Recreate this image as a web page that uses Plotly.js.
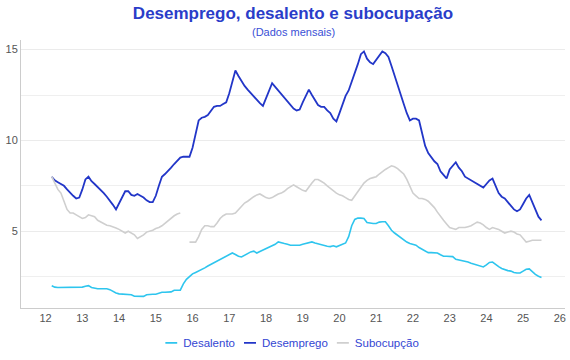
<!DOCTYPE html>
<html>
<head>
<meta charset="utf-8">
<script src="https://cdn.plot.ly/plotly-3.0.1.min.js"></script>
<style>
html,body{margin:0;padding:0;background:#fff;}
#chart{width:570px;height:360px;}
</style>
</head>
<body>
<div id="chart"></div>
<script>
// Monthly series, March 2012 to July 2025 (x = year - 2000, fractional by month)
var startYear = 12, startMonth = 3;
var seriesNames = ["Desalento", "Desemprego", "Subocupção"];

var desalento = [
  2.0,1.92,1.9,1.9,1.9,1.9,1.9,1.9,1.9,1.9,
  1.92,1.97,2.0,1.9,1.85,1.83,1.83,1.83,1.83,1.78,1.68,1.6,
  1.55,1.53,1.53,1.53,1.5,1.42,1.41,1.41,1.41,1.5,1.53,1.53,
  1.53,1.6,1.64,1.64,1.64,1.66,1.75,1.75,1.75,2.1,2.35,2.5,
  2.65,2.73,2.8,2.9,2.98,3.08,3.17,3.26,3.35,3.44,3.53,3.62,
  3.71,3.8,3.72,3.62,3.58,3.68,3.78,3.86,3.9,3.8,3.88,3.96,
  4.05,4.12,4.2,4.28,4.41,4.35,4.32,4.28,4.23,4.23,4.23,4.23,
  4.28,4.32,4.38,4.41,4.35,4.3,4.25,4.22,4.17,4.15,4.2,4.14,
  4.2,4.25,4.35,4.7,5.3,5.65,5.72,5.72,5.7,5.48,5.44,5.42,
  5.42,5.5,5.52,5.52,5.3,5.05,4.9,4.78,4.65,4.5,4.4,4.32,
  4.28,4.23,4.1,4.0,3.88,3.82,3.82,3.82,3.8,3.7,3.62,3.62,
  3.62,3.6,3.45,3.42,3.4,3.36,3.3,3.24,3.18,3.12,3.05,3.03,
  3.15,3.28,3.3,3.15,3.05,2.95,2.88,2.83,2.8,2.72,2.7,2.7,
  2.8,2.9,2.92,2.75,2.62,2.52,2.45
];

var desemprego = [
  8.0,7.8,7.7,7.6,7.5,7.3,7.1,6.95,6.8,6.85,
  7.3,7.85,8.0,7.75,7.6,7.45,7.3,7.1,6.9,6.7,6.45,6.2,
  6.55,6.9,7.2,7.2,7.0,6.95,7.05,6.95,6.85,6.7,6.6,6.6,
  6.95,7.5,8.0,8.15,8.3,8.5,8.7,8.9,9.05,9.1,9.1,9.1,
  9.6,10.3,11.1,11.25,11.3,11.4,11.65,11.85,11.9,11.9,12.0,12.1,
  12.6,13.2,13.85,13.55,13.25,13.0,12.8,12.6,12.4,12.2,12.05,11.9,
  12.3,12.7,13.15,12.95,12.75,12.5,12.3,12.1,11.9,11.75,11.65,11.7,
  12.1,12.5,12.8,12.5,12.25,11.95,11.85,11.85,11.65,11.5,11.2,11.05,
  11.5,11.95,12.45,12.75,13.2,13.7,14.2,14.75,14.9,14.5,14.3,14.2,
  14.45,14.65,14.9,14.8,14.6,14.1,13.55,13.05,12.5,12.0,11.5,11.1,
  11.2,11.2,11.1,10.3,9.7,9.3,9.05,8.85,8.7,8.3,8.1,7.9,
  8.4,8.6,8.8,8.5,8.3,8.0,7.9,7.8,7.7,7.6,7.5,7.4,
  7.6,7.8,7.9,7.5,7.1,6.9,6.8,6.6,6.4,6.2,6.1,6.2,
  6.5,6.8,7.0,6.6,6.2,5.8,5.6
];

var subocupacao = [
  8.0,7.6,7.3,7.1,6.7,6.2,6.0,6.0,5.9,5.8,
  5.7,5.75,5.9,5.85,5.8,5.6,5.5,5.4,5.33,5.3,5.25,5.18,
  5.1,5.0,4.9,5.0,4.9,4.8,4.6,4.7,4.8,4.95,5.0,5.05,
  5.15,5.2,5.3,5.45,5.6,5.75,5.85,5.95,6.0,null,null,4.4,
  4.4,4.4,4.7,5.1,5.3,5.3,5.25,5.25,5.45,5.7,5.85,5.95,
  5.95,5.95,6.0,6.2,6.4,6.55,6.65,6.8,6.9,7.0,7.05,6.95,
  6.85,6.8,6.85,6.95,7.05,7.1,7.2,7.35,7.45,7.55,7.45,7.35,
  7.25,7.2,7.45,7.65,7.85,7.85,7.75,7.65,7.5,7.35,7.25,7.1,
  7.0,6.95,6.85,6.75,6.7,6.95,7.2,7.45,7.65,7.8,7.9,7.95,
  8.0,8.15,8.3,8.4,8.5,8.6,8.55,8.45,8.3,8.15,7.85,7.5,
  7.1,6.95,6.8,6.8,6.75,6.65,6.5,6.3,6.05,5.8,5.6,5.4,
  5.2,5.15,5.1,5.2,5.2,5.2,5.25,5.3,5.4,5.5,5.45,5.35,
  5.2,5.1,5.2,5.15,5.1,5.0,4.9,4.95,5.0,4.95,4.85,4.8,
  4.6,4.4,4.45,4.5,4.5,4.5,4.5
];

var xTickVals = [12,13,14,15,16,17,18,19,20,21,22,23,24,25,26];
var yTickVals = [5,10,15];

var xs = desemprego.map(function(_, i){ return startYear + (startMonth - 1 + i) / 12; });

var colors = ["#2ec5ee", "#2236c8", "#cfcfcf"];
var values = [desalento, desemprego, subocupacao];
var widths = [1.6, 1.8, 1.6];

var traces = values.map(function(v, k){
  return {
    x: xs, y: v, type: "scatter", mode: "lines", name: seriesNames[k],
    line: {color: colors[k], width: widths[k]},
    connectgaps: false, hoverinfo: "x+y"
  };
});

var layout = {
  width: 570, height: 360,
  margin: {l: 21, r: 5, t: 40, b: 52, autoexpand: false},
  paper_bgcolor: "#fff", plot_bgcolor: "#fff",
  font: {family: "Liberation Sans, Arial, sans-serif", color: "#555"},
  title: {
    text: "<b>Desemprego, desalento e subocupação</b>",
    font: {size: 17, color: "#2a3dc9", family: "Liberation Sans, Arial, sans-serif"},
    x: 0.5, xanchor: "center", xref: "paper",
    y: 1 - 13/360, yref: "container", yanchor: "middle"
  },
  annotations: [{
    text: "(Dados mensais)", xref: "paper", yref: "paper",
    x: 0.5, y: 1 + 8/268, xanchor: "center", yanchor: "middle",
    showarrow: false, font: {size: 11, color: "#3a4fd6"}
  }],
  xaxis: {
    range: [11.33, 26.14], tickvals: xTickVals, ticktext: xTickVals.map(String),
    showgrid: false, zeroline: false, showline: true, linecolor: "#cccccc", linewidth: 1,
    ticks: "", tickfont: {size: 11, color: "#555"}, tickangle: 0, automargin: false
  },
  yaxis: {
    range: [0.77, 15.53], tickvals: yTickVals, ticktext: yTickVals.map(String),
    showgrid: true, gridcolor: "#ebebeb", gridwidth: 1, zeroline: false,
    showline: true, linecolor: "#cccccc", linewidth: 1, automargin: false,
    ticks: "", tickfont: {size: 11, color: "#555"},
    minor: {dtick: 2.5, tick0: 0, showgrid: true, gridcolor: "#efefef", gridwidth: 1, ticks: ""}
  },
  showlegend: true,
  legend: {
    orientation: "h", x: 0.5, xanchor: "center",
    y: -0.13, yanchor: "middle",
    font: {size: 11.5, color: "#3346d3"}
  }
};

var gd = document.getElementById("chart");
Plotly.newPlot(gd, traces, layout, {displayModeBar: false, staticPlot: true}).then(function(){
  // compact legend entries: short line symbol, tight spacing (Highcharts-like)
  try {
    var legendG = gd.querySelector(".legend");
    var items = gd.querySelectorAll(".legend .traces");
    if (!legendG || !items.length) return;
    var symLen = 12, symGap = 6, itemGap = 9, cursor = 0, ty = null;
    items.forEach(function(it){
      var m = /translate\(([-\d.]+)[ ,]+([-\d.]+)\)/.exec(it.getAttribute("transform") || "");
      if (m && ty === null) ty = parseFloat(m[2]);
      var p = it.querySelector(".legendlines path, .legendfill path");
      it.querySelectorAll(".legendlines path").forEach(function(pp){ pp.setAttribute("d", "M0,0h" + symLen); });
      var txt = it.querySelector("text.legendtext");
      txt.setAttribute("x", symLen + symGap);
      var w = txt.getComputedTextLength();
      var bg = it.querySelector("rect.legendtoggle");
      if (bg) { bg.setAttribute("x", 0); bg.setAttribute("width", symLen + symGap + w); }
      it.setAttribute("transform", "translate(" + cursor + "," + (ty || 0) + ")");
      cursor += symLen + symGap + w + itemGap;
    });
    var total = cursor - itemGap;
    var lm = /translate\(([-\d.]+)[ ,]+([-\d.]+)\)/.exec(legendG.getAttribute("transform") || "");
    var ly = lm ? parseFloat(lm[2]) : 0;
    var centerX = 21 + (570 - 21 - 5) / 2;
    legendG.setAttribute("transform", "translate(" + (centerX - total / 2 - 1) + "," + ly + ")");
  } catch (e) {}
});
</script>
</body>
</html>
